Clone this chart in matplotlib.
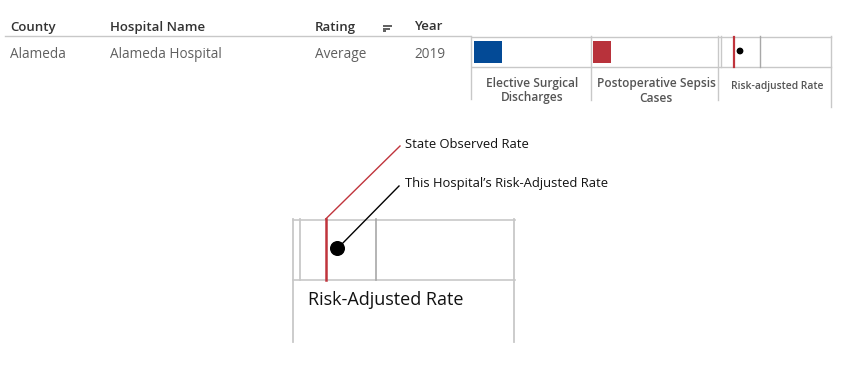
import matplotlib.pyplot as plt
from matplotlib.patches import Rectangle, Circle

# table fields
columns = ["County", "Hospital Name", "Rating", "Year"]
row = ["Alameda", "Alameda Hospital", "Average", "2019"]

# legend panels
panel_labels = ["Elective Surgical\nDischarges", "Postoperative Sepsis\nCases", "Risk-adjusted Rate"]
bar_colors = ["#034a96", "#b8323b"]
big_label = "Risk-Adjusted Rate"
callouts = ["State Observed Rate", "This Hospital\u2019s Risk-Adjusted Rate"]

plt.rcParams['font.family'] = ['Open Sans', 'DejaVu Sans']

fig = plt.figure(figsize=(8.5, 3.7), dpi=100)
ax = fig.add_axes([0, 0, 1, 1])
ax.set_xlim(0, 850)
ax.set_ylim(370, 0)
ax.axis("off")

frame = "#c8c8c8"
inner = "#a8a8a8"
red = "#c0343c"

# header + row
col_x = [10, 110, 315, 414]
for x, c, v in zip(col_x, columns, row):
    ax.text(x, 27, c, fontsize=9.5, color="#333333", va="center", ha="left", fontweight="semibold")
    ax.text(x, 54, v, fontsize=9.8, color="#5f5f5f", va="center", ha="left")
ax.plot([5, 470], [36, 36], color=frame, lw=1)
for y, w in zip([26, 28.7, 31.3], [9.5, 7, 3.5]):
    ax.plot([383, 383 + w], [y, y], color="#444444", lw=1.2, solid_capstyle="butt")

# small legend panel
ax.plot([472, 831], [36.5, 36.5], color=frame, lw=1)
ax.plot([472, 831], [67, 67], color=frame, lw=1)
ax.plot([471.5, 471.5], [36, 99], color=frame, lw=1)
ax.plot([591, 591], [36, 100], color=frame, lw=1)
ax.plot([718, 718], [36, 100], color=frame, lw=1)
ax.plot([721, 721], [36, 67], color=frame, lw=1)
ax.plot([831, 831], [36, 107], color=frame, lw=1)
ax.plot([760.5, 760.5], [36, 67], color=inner, lw=1)
ax.add_patch(Rectangle((474, 41), 28, 22, color=bar_colors[0], lw=0))
ax.add_patch(Rectangle((593, 41), 18, 22, color=bar_colors[1], lw=0))
ax.plot([734, 734], [36.5, 67], color=red, lw=1.6)
ax.add_patch(Circle((740, 51), 2.7, color="black"))
for cx, lab, fs in zip([532, 656, 777], panel_labels, [8.6, 8.6, 7.4]):
    ax.text(cx, 90.5 if "\n" in lab else 86, lab, fontsize=fs, color="#555555",
            ha="center", va="center", fontweight="semibold", linespacing=1.2)

# large explanation panel
ax.plot([293, 515], [219.5, 219.5], color=frame, lw=1.2)
ax.plot([293, 515], [280, 280], color=frame, lw=1.2)
ax.plot([293.5, 293.5], [219, 342], color=frame, lw=1.3)
ax.plot([300.5, 300.5], [219, 280], color=frame, lw=1.3)
ax.plot([514.5, 514.5], [219, 342], color=frame, lw=1.3)
ax.plot([376.5, 376.5], [219, 280], color=inner, lw=1.2)
ax.plot([325.7, 325.7], [219, 280], color=red, lw=1.8)
ax.plot([325.7, 400], [219, 146], color=red, lw=1)
ax.plot([337.5, 399], [248.5, 186], color="black", lw=1)
ax.add_patch(Circle((337.5, 248.5), 6.8, color="black", zorder=3))
ax.text(308, 300, big_label, fontsize=13, color="#111111", ha="left", va="center")
ax.text(405, 145, callouts[0], fontsize=9.4, color="#111111", ha="left", va="center")
ax.text(405, 184, callouts[1], fontsize=9.4, color="#111111", ha="left", va="center")

fig.savefig("out.png", dpi=100)
